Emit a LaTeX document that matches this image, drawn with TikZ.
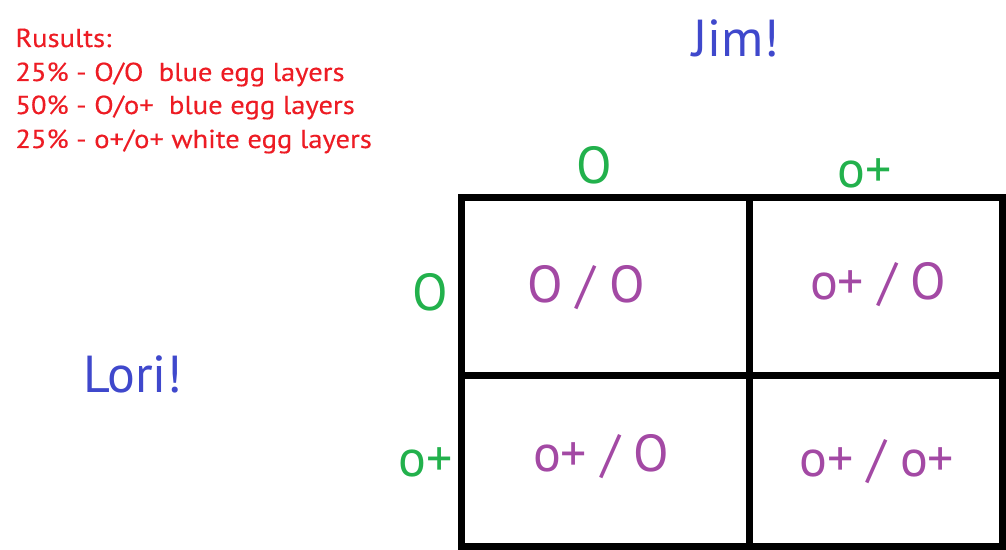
\documentclass[tikz,border=0pt]{standalone}
\usepackage{fontspec}
\setmainfont{PT Sans}
\newfontfamily\notefont{PT Sans}[FakeStretch=1.1,FakeBold=0.3]
\usetikzlibrary{positioning}
\definecolor{Scarlet}{HTML}{ED1C24}
\definecolor{Indigo}{HTML}{3F48CC}
\definecolor{Leaf}{HTML}{22B14C}
\definecolor{Plum}{HTML}{A349A4}

\begin{document}
\begin{tikzpicture}[x=0.5pt,y=-0.5pt,
  big/.style={font=\fontsize{26}{30}\selectfont,inner sep=0pt,anchor=base},
  note/.style={font=\notefont\fontsize{13}{17}\selectfont,text=Scarlet,anchor=base west,inner sep=0pt},
  parent/.style={big,text=Indigo},
  allele/.style={big,text=Leaf},
  geno/.style={big,text=Plum},
  punnett/.style={line width=3.5pt,draw=black}]
\useasboundingbox (0,0) rectangle (1006,550);
% results
\node[note](head) at (15,47){Rusults:};
\node[note](oo) at (15,81){25\% - O/O\ \ blue egg layers};
\node[note](oplus) at (15,114){50\% - O/o+\ \ blue egg layers};
\node[note](plusplus) at (15,148){25\% - o+/o+ white egg layers};
% parents
\node[parent](jim) at (736,57){Jim!};
\node[parent](lori) at (133,393){Lori!};
% square
\draw[punnett](461.5,197.5) rectangle (1002.5,546.5);
\draw[punnett](749.5,197.5)--(749.5,546.5);
\draw[punnett](461.5,375.5)--(1002.5,375.5);
\node[allele](colO) at (594,184){O};
\node[allele](colP) at (865,188){o+};
\node[allele](rowO) at (430,311){O};
\node[allele](rowP) at (426,476){o+};
\node[geno](cellA) at (586,303){O / O};
\node[geno](cellB) at (878,300){o+ / O};
\node[geno](cellC) at (601,471){o+ / O};
\node[geno](cellD) at (877,476){o+ / o+};
\end{tikzpicture}
\end{document}
